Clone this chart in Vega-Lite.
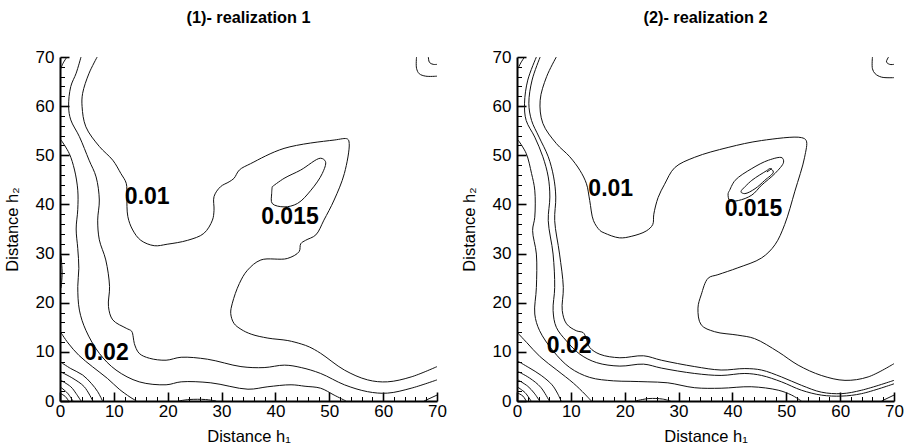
{
"$schema": "https://vega.github.io/schema/vega-lite/v6.json",
"padding": {"left": 4, "top": 9, "right": 4, "bottom": 2},
"background": "white",
"config": {
 "view": {"stroke": null},
 "font": "Liberation Sans",
 "title": {"fontSize": 16.3, "fontWeight": "bold", "color": "#000", "font": "Liberation Sans", "offset": 22},
 "axis": {"domainColor": "#000", "domainWidth": 2, "tickColor": "#000", "labelColor": "#000", "titleColor": "#000", "labelFont": "Liberation Sans", "titleFont": "Liberation Sans", "labelFontSize": 17, "titleFontSize": 16.5, "titleFontWeight": "normal", "grid": false, "labelFlush": false, "labelOverlap": false, "tickCount": 50}
},
"bounds": "flush",
"spacing": 80,
"datasets": {
 "lines": [
{"p":1,"id":"a1","x":6.9,"y":70},{"p":1,"id":"a1","x":5.4,"y":66.7},{"p":1,"id":"a1","x":4.2,"y":62.6},{"p":1,"id":"a1","x":4.1,"y":59.9},{"p":1,"id":"a1","x":4.8,"y":55.8},{"p":1,"id":"a1","x":7.3,"y":51.8},{"p":1,"id":"a1","x":9.8,"y":49},{"p":1,"id":"a1","x":11.3,"y":46.3},{"p":1,"id":"a1","x":12.3,"y":44.3},{"p":1,"id":"a1","x":12.4,"y":41.6},{"p":1,"id":"a1","x":12.6,"y":37.5},{"p":1,"id":"a1","x":13.5,"y":34.8},{"p":1,"id":"a1","x":15,"y":32.7},{"p":1,"id":"a1","x":17.5,"y":31.6},{"p":1,"id":"a1","x":19.9,"y":31.9},{"p":1,"id":"a1","x":23.7,"y":32.7},{"p":1,"id":"a1","x":26.7,"y":34.1},{"p":1,"id":"a1","x":28.3,"y":36.8},{"p":1,"id":"a1","x":28.6,"y":38.8},{"p":1,"id":"a1","x":28.6,"y":41.6},{"p":1,"id":"a1","x":29.8,"y":43.6},{"p":1,"id":"a1","x":31.4,"y":44.6},{"p":1,"id":"a1","x":32.3,"y":45.3},{"p":1,"id":"a1","x":33.3,"y":47},{"p":1,"id":"a1","x":35.4,"y":48.3},{"p":1,"id":"a1","x":41.6,"y":51.4},{"p":1,"id":"a1","x":50.9,"y":53.1},{"p":1,"id":"a1","x":53.4,"y":53.3},{"p":1,"id":"a1","x":53.7,"y":52.4},{"p":1,"id":"a1","x":52.8,"y":46.3},{"p":1,"id":"a1","x":50.9,"y":40.9},{"p":1,"id":"a1","x":49,"y":36.8},{"p":1,"id":"a1","x":47.5,"y":33.8},{"p":1,"id":"a1","x":45.6,"y":32.7},{"p":1,"id":"a1","x":44.7,"y":32},{"p":1,"id":"a1","x":44.4,"y":30.4},{"p":1,"id":"a1","x":42.2,"y":29},{"p":1,"id":"a1","x":37.3,"y":28.7},{"p":1,"id":"a1","x":34.8,"y":26.6},{"p":1,"id":"a1","x":33.3,"y":23.9},{"p":1,"id":"a1","x":32,"y":19.9},{"p":1,"id":"a1","x":31.7,"y":17.8},{"p":1,"id":"a1","x":32.3,"y":15.8},{"p":1,"id":"a1","x":33.6,"y":14.6},{"p":1,"id":"a1","x":35.5,"y":13.6},{"p":1,"id":"a1","x":38.6,"y":12.8},{"p":1,"id":"a1","x":42.3,"y":12.3},{"p":1,"id":"a1","x":44.8,"y":11.6},{"p":1,"id":"a1","x":46.3,"y":11},{"p":1,"id":"a1","x":48.4,"y":9.7},{"p":1,"id":"a1","x":52.8,"y":6.3},{"p":1,"id":"a1","x":57.1,"y":4.3},{"p":1,"id":"a1","x":60.8,"y":3.9},{"p":1,"id":"a1","x":65.2,"y":4.9},{"p":1,"id":"a1","x":70,"y":7.0},
{"p":1,"id":"a2","x":39.4,"y":43.6},{"p":1,"id":"a2","x":41.6,"y":45.3},{"p":1,"id":"a2","x":44.7,"y":47},{"p":1,"id":"a2","x":48.4,"y":49.4},{"p":1,"id":"a2","x":49.3,"y":48.7},{"p":1,"id":"a2","x":48.7,"y":46.3},{"p":1,"id":"a2","x":46.6,"y":42.9},{"p":1,"id":"a2","x":44.1,"y":40.2},{"p":1,"id":"a2","x":41.6,"y":39.5},{"p":1,"id":"a2","x":39.4,"y":40.2},{"p":1,"id":"a2","x":39.3,"y":42.2},{"p":1,"id":"a2","x":39.4,"y":43.6},
{"p":1,"id":"a3","x":3.9,"y":70},{"p":1,"id":"a3","x":3.0,"y":66.7},{"p":1,"id":"a3","x":2.0,"y":64},{"p":1,"id":"a3","x":1.6,"y":59.9},{"p":1,"id":"a3","x":2.0,"y":57.2},{"p":1,"id":"a3","x":3.6,"y":53.8},{"p":1,"id":"a3","x":5.4,"y":49},{"p":1,"id":"a3","x":6.7,"y":45.6},{"p":1,"id":"a3","x":7.3,"y":40.9},{"p":1,"id":"a3","x":7.0,"y":36.8},{"p":1,"id":"a3","x":7.3,"y":32.8},{"p":1,"id":"a3","x":8.5,"y":28.7},{"p":1,"id":"a3","x":9.2,"y":23.3},{"p":1,"id":"a3","x":9.0,"y":19.2},{"p":1,"id":"a3","x":9.8,"y":16.5},{"p":1,"id":"a3","x":12.3,"y":14.8},{"p":1,"id":"a3","x":13.3,"y":14.2},{"p":1,"id":"a3","x":13.6,"y":13},{"p":1,"id":"a3","x":13.8,"y":11.7},{"p":1,"id":"a3","x":14.7,"y":9.7},{"p":1,"id":"a3","x":16.6,"y":8.7},{"p":1,"id":"a3","x":19.7,"y":8.3},{"p":1,"id":"a3","x":22.5,"y":8.9},{"p":1,"id":"a3","x":27.4,"y":8.5},{"p":1,"id":"a3","x":33.6,"y":7.0},{"p":1,"id":"a3","x":37.9,"y":6.8},{"p":1,"id":"a3","x":41.7,"y":7.3},{"p":1,"id":"a3","x":44.8,"y":6.8},{"p":1,"id":"a3","x":48.4,"y":5.6},{"p":1,"id":"a3","x":52.8,"y":3.3},{"p":1,"id":"a3","x":57.1,"y":1.9},{"p":1,"id":"a3","x":60.8,"y":1.6},{"p":1,"id":"a3","x":65.2,"y":2.6},{"p":1,"id":"a3","x":70,"y":4.3},
{"p":1,"id":"a4","x":0.2,"y":53.1},{"p":1,"id":"a4","x":1.7,"y":50.4},{"p":1,"id":"a4","x":2.7,"y":47},{"p":1,"id":"a4","x":3.3,"y":42.9},{"p":1,"id":"a4","x":3.3,"y":39},{"p":1,"id":"a4","x":3.0,"y":35},{"p":1,"id":"a4","x":3.3,"y":31},{"p":1,"id":"a4","x":3.5,"y":27},{"p":1,"id":"a4","x":3.3,"y":23.3},{"p":1,"id":"a4","x":3.6,"y":18.5},{"p":1,"id":"a4","x":4.8,"y":14.4},{"p":1,"id":"a4","x":7.3,"y":9.7},{"p":1,"id":"a4","x":10.4,"y":6.3},{"p":1,"id":"a4","x":14.7,"y":3.9},{"p":1,"id":"a4","x":19.7,"y":3.3},{"p":1,"id":"a4","x":22.5,"y":3.9},{"p":1,"id":"a4","x":28,"y":3.7},{"p":1,"id":"a4","x":34.9,"y":2.4},{"p":1,"id":"a4","x":38.6,"y":2.9},{"p":1,"id":"a4","x":42.9,"y":3.3},{"p":1,"id":"a4","x":45.5,"y":3.0},{"p":1,"id":"a4","x":48.4,"y":2.6},{"p":1,"id":"a4","x":50.9,"y":1.2},{"p":1,"id":"a4","x":53.1,"y":0},
{"p":1,"id":"a5","x":0,"y":14.2},{"p":1,"id":"a5","x":1.5,"y":11.8},{"p":1,"id":"a5","x":3.5,"y":9.3},{"p":1,"id":"a5","x":6,"y":7},{"p":1,"id":"a5","x":8.8,"y":4.6},{"p":1,"id":"a5","x":11,"y":2.4},{"p":1,"id":"a5","x":13,"y":0.8},{"p":1,"id":"a5","x":14.2,"y":0},
{"p":1,"id":"a6","x":0,"y":8.0},{"p":1,"id":"a6","x":2.0,"y":6.6},{"p":1,"id":"a6","x":4.2,"y":5.3},{"p":1,"id":"a6","x":5.8,"y":3.6},{"p":1,"id":"a6","x":7.0,"y":1.9},{"p":1,"id":"a6","x":7.9,"y":0},
{"p":1,"id":"a7","x":0,"y":6.0},{"p":1,"id":"a7","x":2.4,"y":4.6},{"p":1,"id":"a7","x":4.5,"y":2.9},{"p":1,"id":"a7","x":6.1,"y":0},
{"p":1,"id":"a8","x":0,"y":4.3},{"p":1,"id":"a8","x":2.0,"y":2.9},{"p":1,"id":"a8","x":3.0,"y":1.5},{"p":1,"id":"a8","x":3.9,"y":0},
{"p":1,"id":"a9","x":0,"y":2.9},{"p":1,"id":"a9","x":1.4,"y":1.6},{"p":1,"id":"a9","x":2.4,"y":0},
{"p":1,"id":"a10","x":0,"y":1.6},{"p":1,"id":"a10","x":1.0,"y":0.9},{"p":1,"id":"a10","x":1.6,"y":0},
{"p":1,"id":"a11","x":1.3,"y":70},{"p":1,"id":"a11","x":0.6,"y":68.8},{"p":1,"id":"a11","x":0.1,"y":67.5},
{"p":1,"id":"a12","x":66.2,"y":70},{"p":1,"id":"a12","x":66.2,"y":67.7},{"p":1,"id":"a12","x":66.7,"y":66.6},{"p":1,"id":"a12","x":67.9,"y":66.1},{"p":1,"id":"a12","x":70,"y":66.1},
{"p":1,"id":"a13","x":68.4,"y":70},{"p":1,"id":"a13","x":68.6,"y":68.9},{"p":1,"id":"a13","x":69.3,"y":68.5},{"p":1,"id":"a13","x":70,"y":68.5},
{"p":1,"id":"a14","x":67.6,"y":0},{"p":1,"id":"a14","x":70,"y":1.2},
{"p":1,"id":"a15","x":0.2,"y":23},{"p":1,"id":"a15","x":0.4,"y":26},{"p":1,"id":"a15","x":0.2,"y":29.5},
{"p":1,"id":"a16","x":22,"y":0},{"p":1,"id":"a16","x":24,"y":0.3},{"p":1,"id":"a16","x":27,"y":0.3},{"p":1,"id":"a16","x":29,"y":0},
{"p":2,"id":"b1","x":7.3,"y":70},{"p":2,"id":"b1","x":5.5,"y":66},{"p":2,"id":"b1","x":4.3,"y":61.2},{"p":2,"id":"b1","x":4.8,"y":56.5},{"p":2,"id":"b1","x":7.3,"y":52.4},{"p":2,"id":"b1","x":9.8,"y":49.7},{"p":2,"id":"b1","x":11.7,"y":46.9},{"p":2,"id":"b1","x":12.9,"y":44.2},{"p":2,"id":"b1","x":13.5,"y":40.8},{"p":2,"id":"b1","x":14.2,"y":36.7},{"p":2,"id":"b1","x":15.4,"y":34.7},{"p":2,"id":"b1","x":16.2,"y":34.2},{"p":2,"id":"b1","x":19,"y":33.2},{"p":2,"id":"b1","x":21.2,"y":33.5},{"p":2,"id":"b1","x":24,"y":34.6},{"p":2,"id":"b1","x":25.2,"y":35.9},{"p":2,"id":"b1","x":25.4,"y":38},{"p":2,"id":"b1","x":26.2,"y":41.4},{"p":2,"id":"b1","x":27.4,"y":44.1},{"p":2,"id":"b1","x":29.3,"y":47.5},{"p":2,"id":"b1","x":33,"y":49.6},{"p":2,"id":"b1","x":39.2,"y":51.6},{"p":2,"id":"b1","x":45.4,"y":53},{"p":2,"id":"b1","x":52.8,"y":53.6},{"p":2,"id":"b1","x":53.7,"y":53},{"p":2,"id":"b1","x":53.4,"y":49.6},{"p":2,"id":"b1","x":51.6,"y":42.7},{"p":2,"id":"b1","x":49.7,"y":35.9},{"p":2,"id":"b1","x":47.9,"y":31.8},{"p":2,"id":"b1","x":45.4,"y":29.1},{"p":2,"id":"b1","x":41,"y":27.1},{"p":2,"id":"b1","x":37.3,"y":25.7},{"p":2,"id":"b1","x":35.5,"y":25},{"p":2,"id":"b1","x":34.2,"y":21.6},{"p":2,"id":"b1","x":33.6,"y":18.9},{"p":2,"id":"b1","x":34.2,"y":15.5},{"p":2,"id":"b1","x":36.7,"y":14.1},{"p":2,"id":"b1","x":41,"y":13.4},{"p":2,"id":"b1","x":44.1,"y":12.7},{"p":2,"id":"b1","x":48.5,"y":10},{"p":2,"id":"b1","x":52.2,"y":7.3},{"p":2,"id":"b1","x":56.5,"y":5.2},{"p":2,"id":"b1","x":60.9,"y":4.2},{"p":2,"id":"b1","x":65.2,"y":4.9},{"p":2,"id":"b1","x":70,"y":7.6},
{"p":2,"id":"b2","x":39.5,"y":42.9},{"p":2,"id":"b2","x":40.5,"y":44.9},{"p":2,"id":"b2","x":43.6,"y":47.3},{"p":2,"id":"b2","x":46.7,"y":49},{"p":2,"id":"b2","x":49.2,"y":49.5},{"p":2,"id":"b2","x":49.5,"y":48.6},{"p":2,"id":"b2","x":47.9,"y":46.3},{"p":2,"id":"b2","x":45.4,"y":43.9},{"p":2,"id":"b2","x":43.6,"y":41.9},{"p":2,"id":"b2","x":41.1,"y":40.8},{"p":2,"id":"b2","x":39.5,"y":40.8},{"p":2,"id":"b2","x":39.2,"y":42.2},{"p":2,"id":"b2","x":39.5,"y":42.9},
{"p":2,"id":"b3","x":41.7,"y":42.9},{"p":2,"id":"b3","x":43.6,"y":44.9},{"p":2,"id":"b3","x":46.4,"y":46.9},{"p":2,"id":"b3","x":47,"y":47.3},{"p":2,"id":"b3","x":47.6,"y":46.6},{"p":2,"id":"b3","x":46,"y":44.9},{"p":2,"id":"b3","x":44.2,"y":43.2},{"p":2,"id":"b3","x":42.3,"y":42.2},{"p":2,"id":"b3","x":41.6,"y":42.5},{"p":2,"id":"b3","x":41.7,"y":42.9},
{"p":2,"id":"b4","x":46.4,"y":46.6},{"p":2,"id":"b4","x":47.3,"y":47.3},
{"p":2,"id":"b5","x":4.3,"y":70},{"p":2,"id":"b5","x":2.8,"y":65.3},{"p":2,"id":"b5","x":2.2,"y":60.6},{"p":2,"id":"b5","x":2.7,"y":57.1},{"p":2,"id":"b5","x":4.1,"y":53.7},{"p":2,"id":"b5","x":5.8,"y":49.7},{"p":2,"id":"b5","x":6.8,"y":45.6},{"p":2,"id":"b5","x":7.2,"y":41.5},{"p":2,"id":"b5","x":7.0,"y":36.7},{"p":2,"id":"b5","x":7.9,"y":29.9},{"p":2,"id":"b5","x":8.6,"y":23.1},{"p":2,"id":"b5","x":8.4,"y":18.4},{"p":2,"id":"b5","x":9.2,"y":15.7},{"p":2,"id":"b5","x":11,"y":14.3},{"p":2,"id":"b5","x":12.3,"y":13.9},{"p":2,"id":"b5","x":12.8,"y":12.9},{"p":2,"id":"b5","x":13.5,"y":10.9},{"p":2,"id":"b5","x":15.4,"y":9.5},{"p":2,"id":"b5","x":19.1,"y":8.8},{"p":2,"id":"b5","x":23.5,"y":9.2},{"p":2,"id":"b5","x":26.8,"y":8.3},{"p":2,"id":"b5","x":33,"y":7},{"p":2,"id":"b5","x":37.9,"y":6.3},{"p":2,"id":"b5","x":42.3,"y":6.6},{"p":2,"id":"b5","x":45.4,"y":6.3},{"p":2,"id":"b5","x":49.1,"y":4.9},{"p":2,"id":"b5","x":52.8,"y":3.2},{"p":2,"id":"b5","x":56.5,"y":1.8},{"p":2,"id":"b5","x":60.3,"y":1.5},{"p":2,"id":"b5","x":64,"y":2.2},{"p":2,"id":"b5","x":70,"y":4.2},
{"p":2,"id":"b6","x":3.6,"y":70},{"p":2,"id":"b6","x":2.0,"y":65.3},{"p":2,"id":"b6","x":1.4,"y":60.6},{"p":2,"id":"b6","x":1.7,"y":57.1},{"p":2,"id":"b6","x":3.3,"y":53.7},{"p":2,"id":"b6","x":4.8,"y":49.7},{"p":2,"id":"b6","x":5.8,"y":45.6},{"p":2,"id":"b6","x":6.1,"y":41.5},{"p":2,"id":"b6","x":5.8,"y":36.7},{"p":2,"id":"b6","x":6.7,"y":29.9},{"p":2,"id":"b6","x":7.0,"y":23.1},{"p":2,"id":"b6","x":6.7,"y":18.4},{"p":2,"id":"b6","x":7.3,"y":15},{"p":2,"id":"b6","x":9.2,"y":12.2},{"p":2,"id":"b6","x":11.7,"y":9.5},{"p":2,"id":"b6","x":14.8,"y":7.8},{"p":2,"id":"b6","x":19.1,"y":7.1},{"p":2,"id":"b6","x":23.5,"y":7.5},{"p":2,"id":"b6","x":26.8,"y":6.7},{"p":2,"id":"b6","x":33,"y":5.6},{"p":2,"id":"b6","x":37.9,"y":5.2},{"p":2,"id":"b6","x":42.3,"y":5.6},{"p":2,"id":"b6","x":45.4,"y":5.2},{"p":2,"id":"b6","x":49.1,"y":3.9},{"p":2,"id":"b6","x":52.8,"y":2.2},{"p":2,"id":"b6","x":56.5,"y":1.2},{"p":2,"id":"b6","x":60.3,"y":1.0},{"p":2,"id":"b6","x":64,"y":1.5},{"p":2,"id":"b6","x":70,"y":3.5},
{"p":2,"id":"b7","x":0.2,"y":53.1},{"p":2,"id":"b7","x":1.7,"y":50.4},{"p":2,"id":"b7","x":2.7,"y":46.3},{"p":2,"id":"b7","x":3.3,"y":42.9},{"p":2,"id":"b7","x":3.3,"y":37.4},{"p":2,"id":"b7","x":2.9,"y":34.7},{"p":2,"id":"b7","x":3.6,"y":29.9},{"p":2,"id":"b7","x":3.6,"y":23.1},{"p":2,"id":"b7","x":3.3,"y":17.7},{"p":2,"id":"b7","x":4.2,"y":14.3},{"p":2,"id":"b7","x":6.7,"y":10.2},{"p":2,"id":"b7","x":9.8,"y":6.8},{"p":2,"id":"b7","x":13.5,"y":4.8},{"p":2,"id":"b7","x":17.9,"y":4.1},{"p":2,"id":"b7","x":21,"y":4.0},{"p":2,"id":"b7","x":24.3,"y":3.9},{"p":2,"id":"b7","x":28,"y":3.7},{"p":2,"id":"b7","x":33,"y":2.7},{"p":2,"id":"b7","x":37.9,"y":2.6},{"p":2,"id":"b7","x":43.5,"y":2.9},{"p":2,"id":"b7","x":48.5,"y":2.2},{"p":2,"id":"b7","x":51,"y":1.2},{"p":2,"id":"b7","x":52.8,"y":0},
{"p":2,"id":"b8","x":0,"y":14},{"p":2,"id":"b8","x":1.8,"y":11.9},{"p":2,"id":"b8","x":4.3,"y":9},{"p":2,"id":"b8","x":7.4,"y":6.3},{"p":2,"id":"b8","x":10.5,"y":3.6},{"p":2,"id":"b8","x":12.6,"y":1.4},{"p":2,"id":"b8","x":13.8,"y":0},
{"p":2,"id":"b9","x":0,"y":8.2},{"p":2,"id":"b9","x":2.2,"y":6.8},{"p":2,"id":"b9","x":4.5,"y":5.2},{"p":2,"id":"b9","x":6.5,"y":3.3},{"p":2,"id":"b9","x":7.5,"y":1.6},{"p":2,"id":"b9","x":8.2,"y":0},
{"p":2,"id":"b10","x":0,"y":6.1},{"p":2,"id":"b10","x":2.3,"y":4.7},{"p":2,"id":"b10","x":4.4,"y":2.8},{"p":2,"id":"b10","x":6.0,"y":0},
{"p":2,"id":"b11","x":0,"y":4.4},{"p":2,"id":"b11","x":2.0,"y":3.0},{"p":2,"id":"b11","x":3.2,"y":1.6},{"p":2,"id":"b11","x":4.2,"y":0},
{"p":2,"id":"b12","x":0,"y":2.9},{"p":2,"id":"b12","x":1.5,"y":1.7},{"p":2,"id":"b12","x":2.6,"y":0},
{"p":2,"id":"b13","x":0,"y":1.7},{"p":2,"id":"b13","x":1.1,"y":1.0},{"p":2,"id":"b13","x":1.7,"y":0},
{"p":2,"id":"b14","x":1.4,"y":70},{"p":2,"id":"b14","x":0.7,"y":68.8},{"p":2,"id":"b14","x":0.2,"y":67.7},
{"p":2,"id":"b15","x":66,"y":70},{"p":2,"id":"b15","x":66,"y":67.6},{"p":2,"id":"b15","x":66.5,"y":66.6},{"p":2,"id":"b15","x":67.7,"y":65.9},{"p":2,"id":"b15","x":70,"y":65.8},
{"p":2,"id":"b16","x":69,"y":70},{"p":2,"id":"b16","x":68.6,"y":69},{"p":2,"id":"b16","x":69.2,"y":68.5},{"p":2,"id":"b16","x":70,"y":68.5},
{"p":2,"id":"b17","x":67.7,"y":0},{"p":2,"id":"b17","x":70,"y":1.2},
{"p":2,"id":"b18","x":22,"y":0},{"p":2,"id":"b18","x":24.5,"y":0.5},{"p":2,"id":"b18","x":27,"y":0.4},{"p":2,"id":"b18","x":28.5,"y":0}
 ],
 "labels": [
  {"p":1,"t":"0.01","x":16.2,"y":41.6},{"p":1,"t":"0.015","x":42.7,"y":37.5},{"p":1,"t":"0.02","x":8.6,"y":9.7},
  {"p":2,"t":"0.01","x":17.4,"y":43.2},{"p":2,"t":"0.015","x":43.9,"y":39.1},{"p":2,"t":"0.02","x":9.7,"y":11.1}
 ]
},
"hconcat": [
 {
  "width": 377, "height": 344,
  "title": {"text": "(1)- realization 1"},
  "layer": [
   {"data": {"name": "lines"}, "transform": [{"filter": "datum.p === 1"}],
    "mark": {"type": "line", "stroke": "#111", "strokeWidth": 1, "clip": true, "interpolate": "catmull-rom"},
    "encoding": {
     "x": {"field": "x", "type": "quantitative", "scale": {"domain": [0, 70], "nice": false, "zero": false},
       "axis": {"title": "Distance h₁", "values": [0,2,4,6,8,10,12,14,16,18,20,22,24,26,28,30,32,34,36,38,40,42,44,46,48,50,52,54,56,58,60,62,64,66,68,70], "labelExpr": "datum.value % 10 === 0 ? datum.label : ''", "tickSize": {"condition": {"test": "datum.value % 10 === 0", "value": -9}, "value": -4.5}, "tickWidth": {"condition": {"test": "datum.value % 10 === 0", "value": 1.6}, "value": 1}, "labelPadding": 11, "titlePadding": 5}},
     "y": {"field": "y", "type": "quantitative", "scale": {"domain": [0, 70], "nice": false, "zero": false},
       "axis": {"title": "Distance h₂", "values": [0,2,4,6,8,10,12,14,16,18,20,22,24,26,28,30,32,34,36,38,40,42,44,46,48,50,52,54,56,58,60,62,64,66,68,70], "labelExpr": "datum.value % 10 === 0 ? datum.label : ''", "tickSize": {"condition": {"test": "datum.value % 10 === 0", "value": -9}, "value": -4.5}, "tickWidth": {"condition": {"test": "datum.value % 10 === 0", "value": 1.6}, "value": 1}, "labelPadding": 15, "titlePadding": 15}},
     "detail": {"field": "id"},
     "order": {"value": null}
    }},
   {"data": {"name": "labels"}, "transform": [{"filter": "datum.p === 1"}],
    "mark": {"type": "text", "fontSize": 23, "fontWeight": "bold", "font": "Liberation Sans", "color": "#000", "align": "center", "baseline": "middle"},
    "encoding": {"x": {"field": "x", "type": "quantitative"}, "y": {"field": "y", "type": "quantitative"}, "text": {"field": "t"}}}
  ]
 },
 {
  "width": 377, "height": 344,
  "title": {"text": "(2)- realization 2"},
  "layer": [
   {"data": {"name": "lines"}, "transform": [{"filter": "datum.p === 2"}],
    "mark": {"type": "line", "stroke": "#111", "strokeWidth": 1, "clip": true, "interpolate": "catmull-rom"},
    "encoding": {
     "x": {"field": "x", "type": "quantitative", "scale": {"domain": [0, 70], "nice": false, "zero": false},
       "axis": {"title": "Distance h₁", "values": [0,2,4,6,8,10,12,14,16,18,20,22,24,26,28,30,32,34,36,38,40,42,44,46,48,50,52,54,56,58,60,62,64,66,68,70], "labelExpr": "datum.value % 10 === 0 ? datum.label : ''", "tickSize": {"condition": {"test": "datum.value % 10 === 0", "value": -9}, "value": -4.5}, "tickWidth": {"condition": {"test": "datum.value % 10 === 0", "value": 1.6}, "value": 1}, "labelPadding": 11, "titlePadding": 5}},
     "y": {"field": "y", "type": "quantitative", "scale": {"domain": [0, 70], "nice": false, "zero": false},
       "axis": {"title": "Distance h₂", "values": [0,2,4,6,8,10,12,14,16,18,20,22,24,26,28,30,32,34,36,38,40,42,44,46,48,50,52,54,56,58,60,62,64,66,68,70], "labelExpr": "datum.value % 10 === 0 ? datum.label : ''", "tickSize": {"condition": {"test": "datum.value % 10 === 0", "value": -9}, "value": -4.5}, "tickWidth": {"condition": {"test": "datum.value % 10 === 0", "value": 1.6}, "value": 1}, "labelPadding": 15, "titlePadding": 15}},
     "detail": {"field": "id"},
     "order": {"value": null}
    }},
   {"data": {"name": "labels"}, "transform": [{"filter": "datum.p === 2"}],
    "mark": {"type": "text", "fontSize": 23, "fontWeight": "bold", "font": "Liberation Sans", "color": "#000", "align": "center", "baseline": "middle"},
    "encoding": {"x": {"field": "x", "type": "quantitative"}, "y": {"field": "y", "type": "quantitative"}, "text": {"field": "t"}}}
  ]
 }
]
}
